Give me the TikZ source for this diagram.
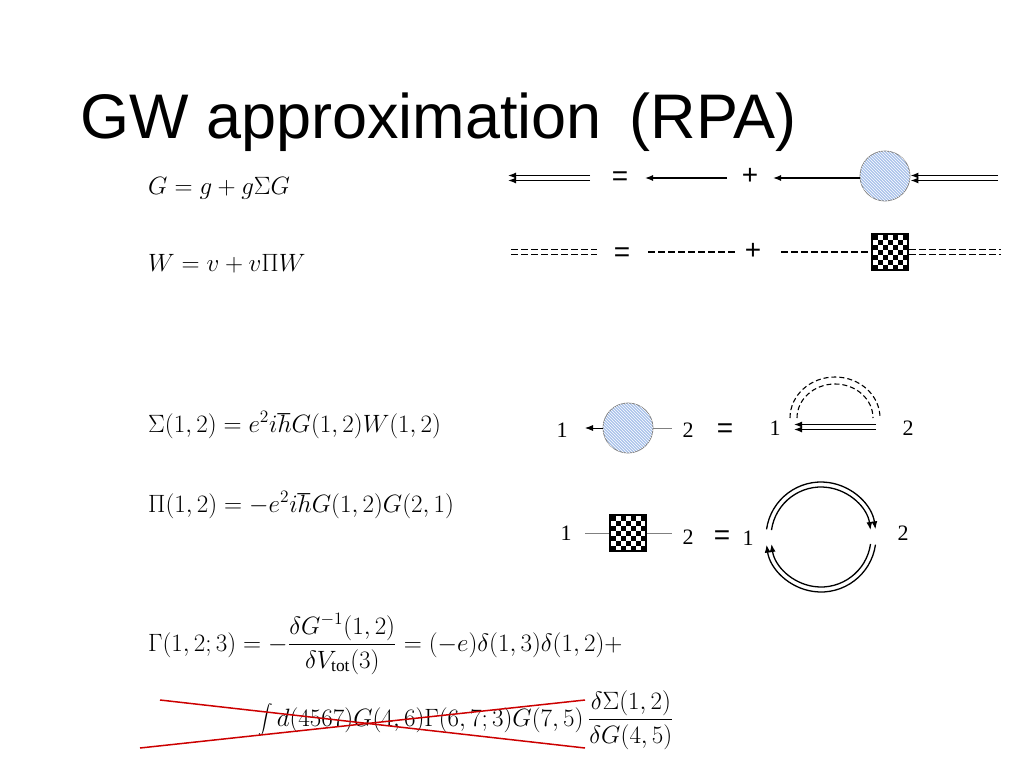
\documentclass[tikz,border=0pt]{standalone}
\usepackage{graphicx}
\usepackage{fontspec}
\setmainfont{Liberation Serif}
\newfontfamily\titlefont{Liberation Sans}
\usetikzlibrary{arrows,arrows.meta,positioning,patterns}
\newcommand{\eqbox}[1]{\scalebox{1.45}{\fontsize{17.28}{20}\selectfont #1}}

\begin{document}
\begin{tikzpicture}[x=1pt,y=-1pt,>={Latex[length=8pt,width=6pt]},
eqn/.style={anchor=base west,inner sep=0pt},
lbl/.style={anchor=base,inner sep=0pt,font=\fontsize{22}{26}\selectfont},
sym/.style={anchor=center,inner sep=0pt,font=\titlefont\fontsize{28}{30}\selectfont},
prop/.style={->, line width=1.3pt},
dprop/.style={dashed, dash pattern=on 7pt off 3pt, line width=1.3pt},
thin/.style={gray, line width=0.8pt},
selfen/.style={circle,draw,thin,minimum size=50pt,inner sep=0pt,fill={rgb,255:red,170;green,195;blue,235},
  postaction={pattern=north west lines,pattern color=white}},
polar/.style={rectangle,draw,line width=1.5pt,minimum size=36pt,inner sep=0pt},
cross/.style={red!80!black, line width=1.5pt}
]
\useasboundingbox (0,0) rectangle (1024,768);

%% Title
\node [anchor=base west,inner sep=0pt,font=\titlefont\fontsize{63}{68}\selectfont] (title) at (80,138) {GW approximation\, (RPA)};

%% Equations
\node [eqn] (eqG)  at (148,194) {\eqbox{$G = g + g\Sigma G$}};
\node [eqn] (eqW)  at (148,271) {\eqbox{$W = v + v\Pi W$}};
\node [eqn] (eqS)  at (148,432) {\eqbox{$\Sigma(1,2) = e^{2} i\hbar G(1,2)W(1,2)$}};
\node [eqn] (eqP)  at (148,512) {\eqbox{$\Pi(1,2) = -e^{2} i\hbar G(1,2)G(2,1)$}};
\node [eqn] (eqV)  at (148,651) {\eqbox{$\displaystyle\Gamma(1,2;3) = -\frac{\delta G^{-1}(1,2)}{\delta V_{\mathrm{tot}}(3)} = (-e)\delta(1,3)\delta(1,2) +$}};
\node [eqn] (eqV2) at (258,726) {\eqbox{$\displaystyle\int d(4567)G(4,6)\Gamma(6,7;3)G(7,5)\,\frac{\delta\Sigma(1,2)}{\delta G(4,5)}$}};

%% Dyson G
\coordinate (g1a) at (590,178); \coordinate (g1b) at (508,178);
\draw [prop] ([yshift=-2.5]g1a) -- ([yshift=-2.5]g1b);
\draw [prop] ([yshift=2.5]g1a) -- ([yshift=2.5]g1b);
\node [sym] (eq1) at (620,179) {=};
\coordinate (g2a) at (727,178); \coordinate (g2b) at (645,178);
\draw [prop] (g2a) -- (g2b);
\node [sym] (pl1) at (750,176) {+};
\node [selfen] (S1) at (885,176) {};
\coordinate (g3b) at (773,178);
\draw [prop] (S1.west |- g3b) -- (g3b);
\coordinate (g4a) at (998,178);
\draw [prop] ([yshift=-2.5]g4a) -- ([yshift=-2.5]S1.east |- g4a);
\draw [prop] ([yshift=2.5]g4a) -- ([yshift=2.5]S1.east |- g4a);

%% Dyson W
\coordinate (w1a) at (511,252); \coordinate (w1b) at (597,252);
\draw [dprop] ([yshift=-2.5]w1a) -- ([yshift=-2.5]w1b);
\draw [dprop] ([yshift=2.5]w1a) -- ([yshift=2.5]w1b);
\node [sym] (eq2) at (622,255) {=};
\coordinate (w2a) at (648,252); \coordinate (w2b) at (738,252);
\draw [dprop] (w2a) -- (w2b);
\node [sym] (pl2) at (753,251) {+};
\node [polar] (P1) at (890,252) {};
\coordinate (w3a) at (781,252);
\draw [dprop] (w3a) -- (P1.west);
\coordinate (w4b) at (1001,252);
\draw [dprop] ([yshift=-2.5]P1.east) -- ([yshift=-2.5]w4b);
\draw [dprop] ([yshift=2.5]P1.east) -- ([yshift=2.5]w4b);

%% Self-energy diagram
\node [lbl] (s1) at (562,437) {1};
\node [selfen] (S2) at (628,428) {};
\node [lbl] (s2) at (688,437) {2};
\draw [->, thin, black] (S2.west) -- (585,428);
\draw [thin] (S2.east) -- (672,428);
\node [sym] (eq3) at (725,431) {=};
\node [lbl] (s3) at (775,435) {1};
\node [lbl] (s4) at (908,435) {2};
\coordinate (sa) at (876,427); \coordinate (sb) at (794,427);
\draw [prop] ([yshift=-2.5]sa) -- ([yshift=-2.5]sb);
\draw [prop] ([yshift=2.5]sa) -- ([yshift=2.5]sb);
\draw [dprop, dash pattern=on 5pt off 3pt, line width=1.1pt] (797,418) arc[start angle=180,end angle=360,x radius=38,y radius=34];
\draw [dprop, dash pattern=on 5pt off 3pt, line width=1.1pt] (790,418) arc[start angle=180,end angle=360,x radius=45,y radius=41];

%% Polarisation diagram
\node [lbl] (p1) at (566,540) {1};
\node [polar] (P2) at (628,533) {};
\node [lbl] (p2) at (688,544) {2};
\draw [thin] (585,533) -- (P2.west);
\draw [thin] (P2.east) -- (672,533);
\node [sym] (eq4) at (722,538) {=};
\node [lbl] (p3) at (748,545) {1};
\node [lbl] (p4) at (903,540) {2};
\coordinate (loop) at (821,537);
\foreach \r in {50,55}{
  \draw [prop] ([shift={(188:\r)}]loop) arc[start angle=188,end angle=352,radius=\r];
  \draw [prop] ([shift={(8:\r)}]loop) arc[start angle=8,end angle=172,radius=\r];
}

%% Polarisation square pattern
\foreach \P in {P1,P2}{
  \foreach \i in {0,...,6}
  \foreach \j in {0,...,6}{
    \pgfmathtruncatemacro{\k}{mod(\i+\j,2)}
    \ifnum\k=0
      \fill ([shift={(-17.5+5*\i,-17.5+5*\j)}]\P.center) rectangle +(5,5);
    \fi
  }
}

%% Crossed-out term
\draw [cross] (160,700) -- (585,748);
\draw [cross] (140,748) -- (585,700);

\end{tikzpicture}
\end{document}
